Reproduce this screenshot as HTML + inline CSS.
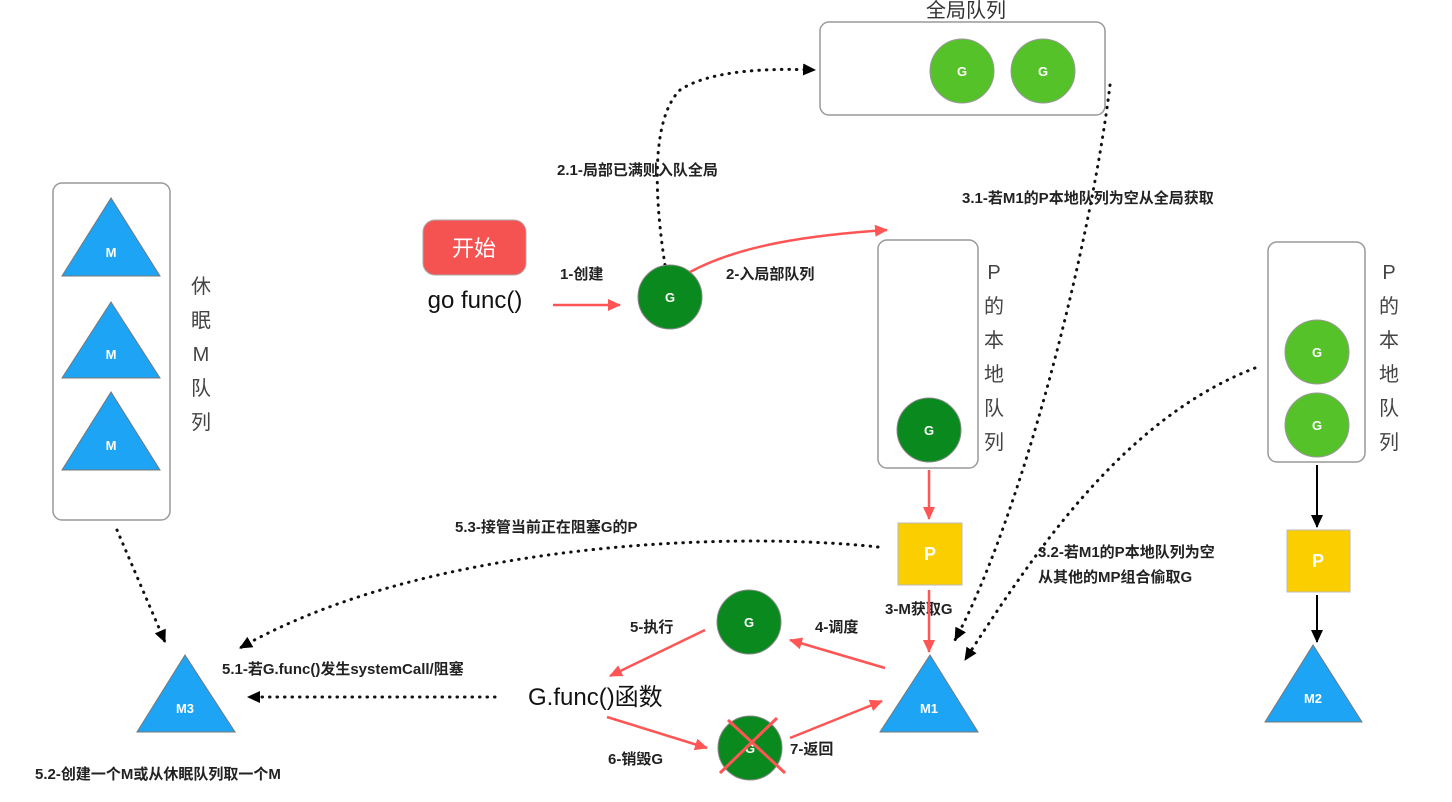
<!DOCTYPE html>
<html><head><meta charset="utf-8"><style>
html,body{margin:0;padding:0;background:#fff;}
svg{display:block;font-family:"Liberation Sans","Noto Sans CJK SC",sans-serif;}
.l{font-size:15px;font-weight:bold;fill:#222;}
.v{font-size:20px;fill:#444;}
.gt{font-size:13px;fill:#fff;font-weight:bold;}
</style></head><body>
<svg width="1452" height="802" viewBox="0 0 1452 802" xmlns="http://www.w3.org/2000/svg">
<defs>
<marker id="ar" markerWidth="13" markerHeight="12" refX="12" refY="6" orient="auto" markerUnits="userSpaceOnUse"><path d="M0,0 L13,6 L0,12 z" fill="#f55"/></marker>
<marker id="ab" markerWidth="13" markerHeight="12" refX="12" refY="6" orient="auto" markerUnits="userSpaceOnUse"><path d="M0,0 L13,6 L0,12 z" fill="#000"/></marker>
</defs>
<text x="966" y="17" text-anchor="middle" font-size="20" fill="#333">全局队列</text>
<rect x="820" y="22" width="285" height="93" rx="9" fill="#fff" stroke="#999" stroke-width="1.5"/>
<circle cx="962" cy="71" r="32" fill="#56c22a" stroke="#999"/><text x="962" y="76" class="gt" text-anchor="middle">G</text>
<circle cx="1043" cy="71" r="32" fill="#56c22a" stroke="#999"/><text x="1043" y="76" class="gt" text-anchor="middle">G</text>
<rect x="53" y="183" width="117" height="337" rx="9" fill="#fff" stroke="#999" stroke-width="1.5"/>
<polygon points="111,198 62,276 160,276" fill="#1ea4f5" stroke="#777"/><text x="111" y="257" class="gt" text-anchor="middle">M</text>
<polygon points="111,302 62,378 160,378" fill="#1ea4f5" stroke="#777"/><text x="111" y="359" class="gt" text-anchor="middle">M</text>
<polygon points="111,392 62,470 160,470" fill="#1ea4f5" stroke="#777"/><text x="111" y="450" class="gt" text-anchor="middle">M</text>
<g class="v" text-anchor="middle"><text x="201" y="293">休</text><text x="201" y="327">眠</text><text x="201" y="361">M</text><text x="201" y="395">队</text><text x="201" y="429">列</text></g>
<rect x="423" y="220" width="103" height="55" rx="12" fill="#f55252" stroke="#aaa"/>
<text x="474" y="256" text-anchor="middle" font-size="22" fill="#fff">开始</text>
<text x="475" y="308" text-anchor="middle" font-size="24" fill="#111">go func()</text>
<line x1="553" y1="305" x2="620" y2="305" stroke="#f55" stroke-width="2.5" marker-end="url(#ar)"/>
<text x="560" y="279" class="l">1-创建</text>
<path d="M665,265 C655,200 650,120 680,90 C710,70 770,68 815,70" fill="none" stroke="#111" stroke-width="3" stroke-dasharray="0.5 7" stroke-linecap="round" marker-end="url(#ab)"/>
<circle cx="670" cy="297" r="32" fill="#0a8a1e" stroke="#888"/><text x="670" y="302" class="gt" text-anchor="middle">G</text>
<text x="557" y="175" class="l">2.1-局部已满则入队全局</text>
<path d="M690,272 C740,245 810,235 887,230" fill="none" stroke="#f55" stroke-width="2.5" marker-end="url(#ar)"/>
<text x="726" y="279" class="l">2-入局部队列</text>
<rect x="878" y="240" width="100" height="228" rx="9" fill="#fff" stroke="#999" stroke-width="1.5"/>
<circle cx="929" cy="430" r="32" fill="#0a8a1e" stroke="#888"/><text x="929" y="435" class="gt" text-anchor="middle">G</text>
<g class="v" text-anchor="middle"><text x="994" y="279">P</text><text x="994" y="313">的</text><text x="994" y="347">本</text><text x="994" y="381">地</text><text x="994" y="415">队</text><text x="994" y="449">列</text></g>
<line x1="929" y1="470" x2="929" y2="519" stroke="#f55" stroke-width="2.5" marker-end="url(#ar)"/>
<rect x="898" y="523" width="64" height="62" fill="#fbce00" stroke="#bbb"/><text x="930" y="560" text-anchor="middle" font-size="18" font-weight="bold" fill="#fff">P</text>
<text x="885" y="614" class="l">3-M获取G</text>
<line x1="929" y1="590" x2="929" y2="652" stroke="#f55" stroke-width="2.5" marker-end="url(#ar)"/>
<polygon points="930,655 880,732 978,732" fill="#1ea4f5" stroke="#777"/><text x="929" y="713" class="gt" text-anchor="middle">M1</text>
<path d="M1110,85 C1090,250 1020,520 955,640" fill="none" stroke="#111" stroke-width="3" stroke-dasharray="0.5 7" stroke-linecap="round" marker-end="url(#ab)"/>
<text x="962" y="203" class="l">3.1-若M1的P本地队列为空从全局获取</text>
<rect x="1268" y="242" width="97" height="220" rx="9" fill="#fff" stroke="#999" stroke-width="1.5"/>
<circle cx="1317" cy="352" r="32" fill="#56c22a" stroke="#999"/><text x="1317" y="357" class="gt" text-anchor="middle">G</text>
<circle cx="1317" cy="425" r="32" fill="#56c22a" stroke="#999"/><text x="1317" y="430" class="gt" text-anchor="middle">G</text>
<g class="v" text-anchor="middle"><text x="1389" y="279">P</text><text x="1389" y="313">的</text><text x="1389" y="347">本</text><text x="1389" y="381">地</text><text x="1389" y="415">队</text><text x="1389" y="449">列</text></g>
<line x1="1317" y1="465" x2="1317" y2="527" stroke="#000" stroke-width="2" marker-end="url(#ab)"/>
<rect x="1287" y="530" width="63" height="62" fill="#fbce00" stroke="#bbb"/><text x="1318" y="567" text-anchor="middle" font-size="18" font-weight="bold" fill="#fff">P</text>
<line x1="1317" y1="595" x2="1317" y2="642" stroke="#000" stroke-width="2" marker-end="url(#ab)"/>
<polygon points="1313,645 1265,722 1362,722" fill="#1ea4f5" stroke="#777"/><text x="1313" y="703" class="gt" text-anchor="middle">M2</text>
<path d="M1255,368 C1120,420 1030,560 965,660" fill="none" stroke="#111" stroke-width="3" stroke-dasharray="0.5 7" stroke-linecap="round" marker-end="url(#ab)"/>
<text x="1038" y="557" class="l">3.2-若M1的P本地队列为空</text>
<text x="1038" y="582" class="l">从其他的MP组合偷取G</text>
<circle cx="749" cy="622" r="32" fill="#0a8a1e" stroke="#888"/><text x="749" y="627" class="gt" text-anchor="middle">G</text>
<text x="815" y="632" class="l">4-调度</text>
<line x1="885" y1="668" x2="790" y2="640" stroke="#f55" stroke-width="2.5" marker-end="url(#ar)"/>
<text x="630" y="632" class="l">5-执行</text>
<line x1="705" y1="630" x2="610" y2="676" stroke="#f55" stroke-width="2.5" marker-end="url(#ar)"/>
<text x="528" y="705" font-size="24" fill="#111">G.func()函数</text>
<line x1="607" y1="717" x2="707" y2="748" stroke="#f55" stroke-width="2.5" marker-end="url(#ar)"/>
<circle cx="750" cy="748" r="32" fill="#0a8a1e" stroke="#888"/><text x="750" y="753" class="gt" text-anchor="middle">G</text>
<line x1="728" y1="720" x2="785" y2="773" stroke="#f55" stroke-width="3"/>
<line x1="777" y1="718" x2="720" y2="773" stroke="#f55" stroke-width="3"/>
<text x="608" y="764" class="l">6-销毁G</text>
<text x="790" y="754" class="l">7-返回</text>
<line x1="790" y1="738" x2="882" y2="701" stroke="#f55" stroke-width="2.5" marker-end="url(#ar)"/>
<path d="M878,547 C720,530 420,545 240,648" fill="none" stroke="#111" stroke-width="3" stroke-dasharray="0.5 7" stroke-linecap="round" marker-end="url(#ab)"/>
<text x="455" y="532" class="l">5.3-接管当前正在阻塞G的P</text>
<line x1="495" y1="697" x2="248" y2="697" stroke="#111" stroke-width="3" stroke-dasharray="0.5 7" stroke-linecap="round" marker-end="url(#ab)"/>
<text x="222" y="674" class="l">5.1-若G.func()发生systemCall/阻塞</text>
<polygon points="185,655 137,732 235,732" fill="#1ea4f5" stroke="#777"/><text x="185" y="713" class="gt" text-anchor="middle">M3</text>
<line x1="117" y1="530" x2="165" y2="642" stroke="#111" stroke-width="3" stroke-dasharray="0.5 7" stroke-linecap="round" marker-end="url(#ab)"/>
<text x="35" y="779" class="l">5.2-创建一个M或从休眠队列取一个M</text>
</svg>
</body></html>
